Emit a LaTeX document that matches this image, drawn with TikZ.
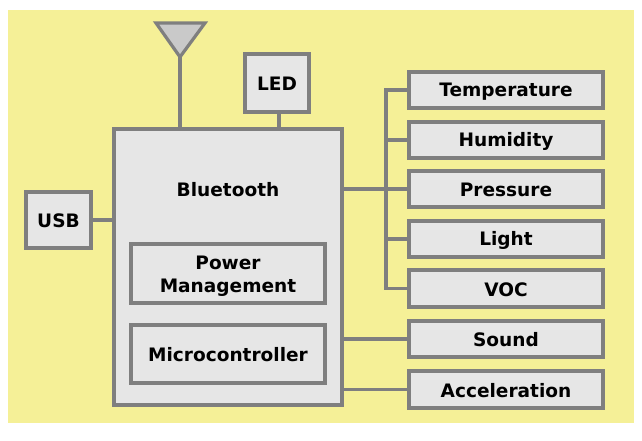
\documentclass[tikz,border=0pt]{standalone}
\usepackage{fontspec}
\setmainfont{DejaVu Sans}
\definecolor{bgy}{HTML}{F5F097}
\definecolor{boxf}{HTML}{E6E6E6}
\definecolor{edgec}{HTML}{7F7F7F}
\definecolor{antf}{HTML}{C9C9C9}
\newcommand{\ls}{\rule[-1.3pt]{0pt}{14.3pt}}
\tikzset{
  blk/.style={draw=edgec,fill=boxf,line width=3.2pt*0.75,inner sep=0pt,outer sep=0pt,align=center,font=\bfseries\fontsize{13.9}{17.25}\selectfont,text=black},
  wire/.style={draw=edgec,line width=3.2pt*0.75}
}
\newcommand{\bx}[6]{\node[blk,minimum width=#4*0.75pt,minimum height=#5*0.75pt] (#1) at (#2,#3) {#6};}
\begin{document}
\begin{tikzpicture}[x=0.75pt,y=-0.75pt]
\useasboundingbox (0,0) rectangle (642,440);
\fill[white] (0,0) rectangle (642,440);
\fill[bgy] (8,10) rectangle (634,423);
\bx{main}{228}{267}{228}{276}{}
\node[font=\bfseries\fontsize{13.9}{17.25}\selectfont] (bt) at (228,189) {\ls Bluetooth};
\bx{usb}{58.5}{220}{65}{56}{\ls USB}
\bx{led}{277}{83}{64}{58}{\ls LED}
\bx{pm}{228}{273.5}{194}{59}{\rule{0pt}{14.4pt}Power\\Management}
\bx{mc}{228}{354}{194}{58}{\ls Microcontroller}
\bx{temp}{506}{90}{194}{36}{\ls Temperature}
\bx{hum}{506}{140}{194}{36}{\ls Humidity}
\bx{pres}{506}{189}{194}{36}{\ls Pressure}
\bx{lig}{506}{239}{194}{36}{\ls Light}
\bx{voc}{506}{288.5}{194}{37}{\ls VOC}
\bx{snd}{506}{339}{194}{36}{\ls Sound}
\bx{acc}{506}{389.5}{194}{37}{\ls Acceleration}
\coordinate (a1) at (156,23);
\coordinate (a2) at (205,23);
\coordinate (a3) at (180,57);
\coordinate (bustop) at (386,90);
\coordinate (busbot) at (386,288.5);
\coordinate (ledfoot) at (279,129);
\draw[wire,fill=antf,line join=miter] (a1) -- (a2) -- (a3) -- cycle;
\draw[wire] (a3) -- (a3 |- main.north);
\draw[wire] (led.south -| ledfoot) -- (ledfoot);
\draw[wire] (usb.east) -- (usb.east -| main.west);
\draw[wire,line join=miter] (temp.west) -- (bustop) -- (busbot) -- (voc.west);
\draw[wire] (hum.west) -- (hum.west -| bustop);
\draw[wire] (lig.west) -- (lig.west -| bustop);
\draw[wire] (main.east |- pres.west) -- (pres.west);
\draw[wire] (main.east |- snd.west) -- (snd.west);
\draw[wire] (main.east |- acc.west) -- (acc.west);
\end{tikzpicture}
\end{document}
